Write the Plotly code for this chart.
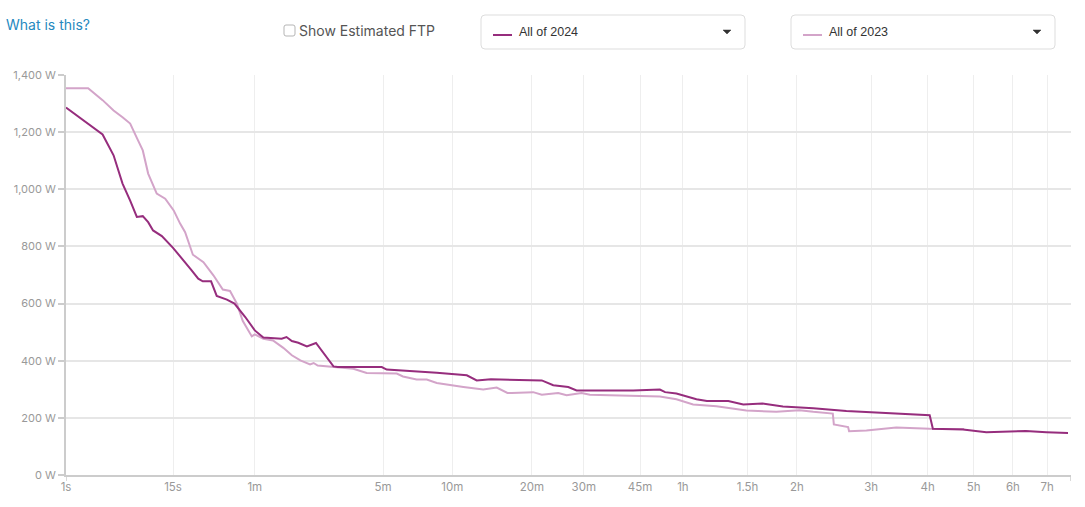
import plotly.graph_objects as go

# ---------------- data ----------------
dur_2024 = [1, 2, 3, 4, 5, 6, 7, 8, 9, 10, 12, 15, 18, 21, 24, 26, 30, 33, 39, 44, 52, 60, 68, 80, 88, 94,
            101, 110, 123, 138, 141, 171, 180, 296, 312, 412, 518, 686, 750, 850, 1183, 1300, 1424, 1600,
            1705, 2000, 2574, 3090, 3200, 3450, 3930, 4200, 4800, 5260, 5900, 6650, 7200, 7900, 9470,
            11300, 14550, 14780, 17100, 19100, 21600, 22900, 25100, 27600]
watts_2024 = [1286, 1230, 1192, 1119, 1020, 960, 903, 906, 885, 856, 836, 795, 757, 720, 687, 678, 678, 627,
              614, 600, 553, 506, 481, 480, 477, 483, 469, 463, 450, 462, 454, 380, 378, 378, 369, 364, 358,
              349, 331, 335, 331, 331, 314, 308, 296, 296, 296, 299, 290, 285, 265, 259, 259, 247, 250, 240,
              238, 234, 224, 218, 209, 162, 159, 150, 153, 154, 150, 147]

dur_2023 = [1, 2, 3, 4, 5, 6, 7, 8, 9, 10.8, 12.85, 15.2, 17.2, 18.9, 21.8, 26.3, 31.2, 36.5, 41, 45.7, 50,
            57.4, 60, 68, 78, 90, 101, 113, 128, 134, 141, 178, 216, 251, 347, 370, 425, 470, 518, 665,
            795, 894, 980, 1016, 1120, 1213, 1300, 1480, 1580, 1770, 1884, 2183, 2697, 3090, 3450, 3846,
            4460, 5360, 6400, 7310, 7900, 8800, 8850, 9220, 9560, 9610, 10540, 12300, 14550, 17200]
watts_2023 = [1354, 1354, 1312, 1276, 1252, 1230, 1180, 1136, 1055, 985, 967, 926, 880, 850, 771, 745, 699,
              649, 644, 600, 540, 485, 492, 477, 471, 445, 419, 401, 387, 392, 383, 378, 372, 357, 355, 345,
              334, 334, 322, 308, 299, 306, 287, 287, 290, 290, 281, 287, 279, 287, 281, 279, 275, 275, 265,
              247, 241, 226, 221, 227, 221, 215, 177, 171, 168, 153, 156, 166, 162, 161]

tick_secs = [1, 15, 60, 300, 600, 1200, 1800, 2700, 3600, 5400, 7200, 10800, 14400, 18000, 21600, 25200]
tick_labels = ["1s", "15s", "1m", "5m", "10m", "20m", "30m", "45m", "1h", "1.5h", "2h", "3h", "4h", "5h",
               "6h", "7h"]
y_ticks = [0, 200, 400, 600, 800, 1000, 1200, 1400]
y_labels = ["0 W", "200 W", "400 W", "600 W", "800 W", "1,000 W", "1,200 W", "1,400 W"]
max_dur = 27960

COL_24 = "#962d7d"
COL_23 = "#d3a4c9"
POW = 0.2  # the chart's duration axis is a power scale (t ** 0.2)


def tr(v):
    return [s ** POW for s in v]


W, H = 1085, 507
ML, MR, MT, MB = 66, 14, 75, 32
PW, PH = W - ML - MR, H - MT - MB
TXT_OFF = 2  # annotation inner padding


def px(x):
    return (x - ML) / PW


def py(y):
    return (H - MB - y) / PH


fig = go.Figure()
fig.add_trace(go.Scatter(x=tr(dur_2023), y=watts_2023, mode="lines", name="All of 2023",
                         line=dict(color=COL_23, width=2), hoverinfo="skip"))
fig.add_trace(go.Scatter(x=tr(dur_2024), y=watts_2024, mode="lines", name="All of 2024",
                         line=dict(color=COL_24, width=2), hoverinfo="skip"))

shapes = []
annotations = []


def rrect(x0, y0, x1, y1, r, color):
    p = (f"M {px(x0 + r)} {py(y0)} L {px(x1 - r)} {py(y0)} Q {px(x1)} {py(y0)} {px(x1)} {py(y0 + r)} "
         f"L {px(x1)} {py(y1 - r)} Q {px(x1)} {py(y1)} {px(x1 - r)} {py(y1)} "
         f"L {px(x0 + r)} {py(y1)} Q {px(x0)} {py(y1)} {px(x0)} {py(y1 - r)} "
         f"L {px(x0)} {py(y0 + r)} Q {px(x0)} {py(y0)} {px(x0 + r)} {py(y0)} Z")
    shapes.append(dict(type="path", xref="paper", yref="paper", path=p,
                       line=dict(color=color, width=1), fillcolor="white", layer="above"))


def label(x, y, text, size, color, family="Inter, Noto Sans, sans-serif"):
    annotations.append(dict(x=px(x - TXT_OFF), y=py(y), xref="paper", yref="paper", text=text,
                            showarrow=False, xanchor="left", yanchor="middle",
                            font=dict(family=family, size=size, color=color)))


# header
label(6, 24, "What is this?", 14, "#2589c0")
rrect(284, 25, 295, 36, 2, "#b5b5b5")
label(299, 31, "Show Estimated FTP", 14, "#555555")

for (x0, x1, text, col) in [(481, 745, "All of 2024", COL_24), (791, 1055, "All of 2023", COL_23)]:
    rrect(x0, 15, x1, 49, 4, "#dddddd")
    shapes.append(dict(type="line", xref="paper", yref="paper", x0=px(x0 + 12), x1=px(x0 + 31),
                       y0=py(35), y1=py(35), line=dict(color=col, width=2), layer="above"))
    label(x0 + 38, 31.5, text, 12.5, "#333333", "Liberation Sans, Arial, sans-serif")
    cx = x1 - 18
    shapes.append(dict(type="path", xref="paper", yref="paper",
                       path=f"M {px(cx - 4)} {py(30)} L {px(cx + 4)} {py(30)} L {px(cx)} {py(34)} Z",
                       fillcolor="#333333", line=dict(color="#333333", width=0.5), layer="above"))

# end ticks on x axis
for s in [tick_secs[0], max_dur]:
    shapes.append(dict(type="line", xref="x", yref="paper", x0=s ** POW, x1=s ** POW, y0=0, y1=-6 / PH,
                       line=dict(color="#cccccc", width=1.5)))

fig.update_layout(
    width=W, height=H, autosize=False,
    margin=dict(l=ML, r=MR, t=MT, b=MB, pad=0),
    plot_bgcolor="white", paper_bgcolor="white",
    showlegend=False,
    shapes=shapes, annotations=annotations,
    font=dict(family="Inter, Noto Sans, sans-serif", size=11, color="#999999"),
    xaxis=dict(range=[1, max_dur ** POW], tickvals=tr(tick_secs), ticktext=tick_labels,
               showgrid=True, gridcolor="#eeeeee", gridwidth=1, zeroline=False,
               showline=True, linecolor="#cccccc", linewidth=2, ticks="", automargin=False,
               tickfont=dict(size=11.5, color="#999999"), fixedrange=True),
    yaxis=dict(range=[0, 1400], tickvals=y_ticks, ticktext=y_labels,
               showgrid=True, gridcolor="#e6e6e6", gridwidth=1.5, zeroline=False,
               showline=True, linecolor="#cccccc", linewidth=2, ticks="outside", ticklen=6,
               tickcolor="#cccccc", tickwidth=1.5, automargin=False,
               tickfont=dict(size=11, color="#999999"), fixedrange=True),
)

fig.write_html("out.html", config=dict(displayModeBar=False),
               post_script="document.body.style.margin='0';")
